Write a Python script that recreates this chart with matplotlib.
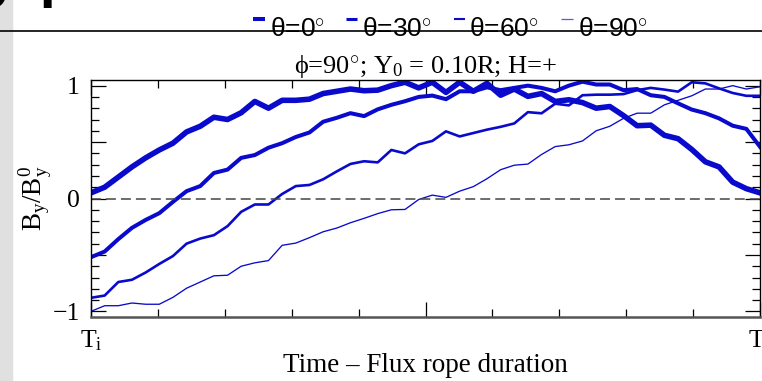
import numpy as np
import matplotlib.pyplot as plt
from matplotlib.lines import Line2D
from matplotlib.patches import Rectangle
from matplotlib.ticker import FixedLocator, MultipleLocator

plt.rcParams['font.family'] = ['Liberation Serif', 'DejaVu Serif']
plt.rcParams['mathtext.fontset'] = 'custom'
plt.rcParams['mathtext.rm'] = 'Liberation Serif'
plt.rcParams['mathtext.it'] = 'Liberation Serif:italic'

# normalised time across the flux rope, 50 samples
t = np.linspace(0, 1, 50)

# By/By0 for each theta
by_th0 = [0.05, 0.10, 0.19, 0.28, 0.36, 0.43, 0.49, 0.59, 0.64, 0.72,
          0.70, 0.76, 0.86, 0.80, 0.87, 0.87, 0.88, 0.93, 0.95, 0.97,
          0.955, 0.96, 1.00, 1.03, 0.98, 1.03, 0.94, 1.03, 0.95, 1.02,
          0.915, 0.97, 0.905, 0.93, 0.86, 0.875, 0.85, 0.80, 0.815, 0.735,
          0.645, 0.65, 0.56, 0.53, 0.435, 0.325, 0.28, 0.145, 0.087, 0.05]
by_th30 = [-0.52, -0.47, -0.36, -0.26, -0.19, -0.13, -0.03, 0.065, 0.11, 0.226,
           0.256, 0.36, 0.385, 0.45, 0.49, 0.545, 0.585, 0.68, 0.715, 0.756,
           0.73, 0.79, 0.83, 0.862, 0.90, 0.912, 0.88, 0.95, 0.95, 0.985,
           0.96, 0.98, 1.00, 0.98, 0.95, 1.00, 1.035, 1.01, 1.01, 0.96,
           0.97, 0.915, 0.90, 0.843, 0.788, 0.756, 0.71, 0.645, 0.617, 0.458]
by_th60 = [-0.88, -0.86, -0.74, -0.72, -0.656, -0.58, -0.51, -0.40, -0.355, -0.325,
           -0.245, -0.118, -0.053, -0.053, 0.04, 0.11, 0.12, 0.17, 0.24, 0.306,
           0.33, 0.32, 0.43, 0.40, 0.48, 0.51, 0.595, 0.55, 0.58, 0.61,
           0.635, 0.665, 0.765, 0.755, 0.84, 0.825, 0.915, 0.92, 0.92, 0.925,
           0.96, 0.98, 0.965, 0.947, 1.03, 1.02, 0.976, 0.935, 0.91, 0.91]
by_th90 = [-1.0, -0.95, -0.95, -0.926, -0.937, -0.937, -0.876, -0.795, -0.74, -0.685,
           -0.68, -0.60, -0.57, -0.55, -0.415, -0.395, -0.347, -0.295, -0.262, -0.215,
           -0.176, -0.134, -0.10, -0.097, -0.009, 0.03, 0.01, 0.065, 0.105, 0.175,
           0.255, 0.295, 0.305, 0.39, 0.46, 0.476, 0.51, 0.60, 0.64, 0.71,
           0.756, 0.756, 0.83, 0.87, 0.91, 0.97, 0.97, 1.00, 0.97, 0.99]

series = [by_th0, by_th30, by_th60, by_th90]
labels = ['θ=0', 'θ=30', 'θ=60', 'θ=90']
widths = [4.0, 2.9, 1.9, 0.95]
blue = '#0a0acd'

fig = plt.figure(figsize=(7.62, 3.81), dpi=100)
W, H = 762, 381

# page bits around the panel
fig.add_artist(Rectangle((0, 0), 12 / W, 1, transform=fig.transFigure,
                         color='#e0e0e0', zorder=0))
fig.add_artist(Line2D([0, 1], [1 - 31 / H] * 2, color='black', lw=1.2))
fig.text(-22 / W, 1 - 8 / H, '0', fontsize=40, fontweight='bold',
         family='Liberation Sans', va='baseline')
fig.text(39 / W, 1 - 8 / H, '.', fontsize=40, fontweight='bold',
         family='Liberation Sans', va='baseline')

# legend strip on top
leg_x = [(253, 265, 270), (346, 357, 362), (454, 465, 469), (561, 573, 578)]
leg_lw = [2.9, 2.2, 1.5, 0.9]
leg_col = [blue, blue, blue, '#5858e0']
for (x0, x1, xt), lab, lw, c in zip(leg_x, labels, leg_lw, leg_col):
    fig.add_artist(Line2D([x0 / W, x1 / W], [1 - 19 / H] * 2, color=c, lw=lw,
                          solid_capstyle='butt'))
    fig.text(xt / W, 1 - 36 / H, lab + r'$^{\circ}$', fontsize=19,
             family=['Liberation Sans', 'DejaVu Sans'], va='baseline')

ax = fig.add_axes([91 / W, 1 - 317 / H, 669 / W, 237 / H])
for y, lw in zip(series, widths):
    ax.plot(t, y, color=blue, lw=lw)
ax.axhline(0, color='#444444', lw=1.1, dashes=(6.5, 3.3))

ax.set_xlim(0, 1)
ax.set_ylim(-1.05, 1.05)
ax.xaxis.set_major_locator(FixedLocator([0, 0.5, 1]))
ax.set_xticklabels([r'T$_\mathregular{i}$', '', r'T$_\mathregular{f}$'])
ax.xaxis.set_minor_locator(MultipleLocator(0.1))
ax.yaxis.set_major_locator(FixedLocator([-1, -0.5, 0, 0.5, 1]))
ax.set_yticklabels(['\u22121', '', '0', '', '1'])
ax.yaxis.set_minor_locator(MultipleLocator(0.1))
ax.tick_params(which='both', direction='in', top=True, right=True,
               labelsize=18.5, width=0.9, pad=8)
ax.tick_params(which='major', length=11)
ax.tick_params(which='minor', length=5.8)
for s in ax.spines.values():
    s.set_linewidth(1.0)
ax.spines['bottom'].set_linewidth(1.8)
ax.spines['bottom'].set_color('#555555')

ax.set_title(r'ϕ=90$^{\circ}$; Y$_\mathregular{0}$ = 0.10R; H=+', fontsize=19, pad=4)
ax.set_xlabel('Time \u2013 Flux rope duration', fontsize=19.5, labelpad=0)
ax.set_ylabel(r'$\mathregular{B_y/B_y^0}$', fontsize=19.5, labelpad=-1)

fig.savefig('out.png', dpi=100)
